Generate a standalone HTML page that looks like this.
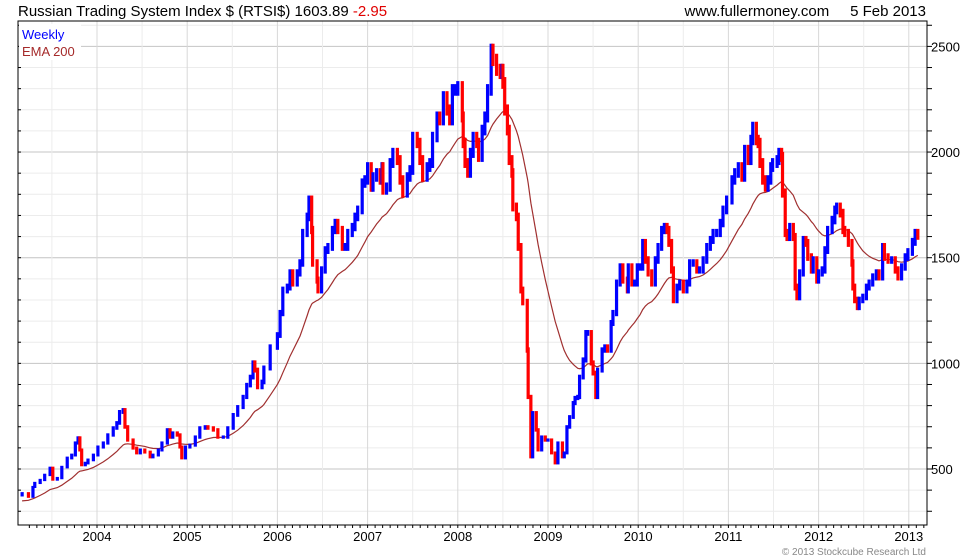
<!DOCTYPE html>
<html><head><meta charset="utf-8"><style>
body{margin:0;background:#fff;}
svg{display:block;font-family:"Liberation Sans",sans-serif;}
</style></head><body>
<svg id="chart" width="980" height="560" viewBox="0 0 980 560" xmlns="http://www.w3.org/2000/svg">
<rect width="980" height="560" fill="#fff"/>
<g id="grid"></g>
<g id="ema"></g>
<g id="bars"></g>
<g id="axes"></g>
<text x="18" y="16" font-size="15" fill="#000">Russian Trading System Index $ (RTSI$) 1603.89 <tspan fill="#e00000">-2.95</tspan></text>
<text x="926" y="16" font-size="15" fill="#000" text-anchor="end">www.fullermoney.com&#160;&#160;&#160;&#160;&#160;5 Feb 2013</text>
<rect x="19" y="24" width="62" height="36" fill="#fff"/>
<text x="22" y="39" font-size="13" fill="#0000ff">Weekly</text>
<text x="22" y="56" font-size="13" fill="#a52a2a">EMA 200</text>
<text x="926" y="555" font-size="10" fill="#888" text-anchor="end">© 2013 Stockcube Research Ltd</text>
</svg>
<script>
const dates=[2003.17,2003.24,2003.29,2003.31,2003.37,2003.42,2003.48,2003.51,2003.56,2003.61,2003.67,2003.72,2003.76,2003.79,2003.81,2003.83,2003.87,2003.90,2003.96,2004.01,2004.07,2004.12,2004.18,2004.22,2004.25,2004.29,2004.31,2004.34,2004.40,2004.44,2004.48,2004.53,2004.59,2004.62,2004.68,2004.72,2004.78,2004.81,2004.84,2004.89,2004.92,2004.94,2004.98,2005.03,2005.09,2005.14,2005.20,2005.23,2005.29,2005.34,2005.40,2005.45,2005.51,2005.56,2005.62,2005.66,2005.70,2005.73,2005.75,2005.78,2005.83,2005.85,2005.92,2006.00,2006.03,2006.06,2006.11,2006.14,2006.17,2006.22,2006.25,2006.28,2006.33,2006.35,2006.38,2006.39,2006.44,2006.45,2006.49,2006.53,2006.56,2006.61,2006.64,2006.67,2006.72,2006.75,2006.78,2006.83,2006.86,2006.89,2006.94,2006.97,2007.00,2007.04,2007.06,2007.10,2007.14,2007.16,2007.17,2007.21,2007.25,2007.28,2007.33,2007.36,2007.39,2007.44,2007.47,2007.50,2007.55,2007.58,2007.61,2007.66,2007.69,2007.72,2007.77,2007.80,2007.84,2007.88,2007.91,2007.94,2007.97,2008.00,2008.05,2008.06,2008.08,2008.11,2008.14,2008.17,2008.21,2008.23,2008.27,2008.30,2008.33,2008.37,2008.39,2008.43,2008.47,2008.49,2008.50,2008.52,2008.55,2008.57,2008.60,2008.61,2008.65,2008.67,2008.70,2008.72,2008.77,2008.78,2008.81,2008.83,2008.87,2008.89,2008.93,2008.97,2009.00,2009.04,2009.08,2009.11,2009.16,2009.18,2009.21,2009.24,2009.28,2009.30,2009.33,2009.35,2009.39,2009.42,2009.44,2009.48,2009.50,2009.53,2009.55,2009.60,2009.63,2009.66,2009.70,2009.72,2009.76,2009.80,2009.83,2009.88,2009.89,2009.93,2009.96,2009.99,2010.02,2010.05,2010.08,2010.11,2010.15,2010.19,2010.22,2010.26,2010.29,2010.32,2010.34,2010.37,2010.39,2010.43,2010.46,2010.50,2010.54,2010.57,2010.61,2010.65,2010.68,2010.72,2010.76,2010.80,2010.83,2010.87,2010.91,2010.94,2010.98,2011.04,2011.07,2011.11,2011.15,2011.18,2011.22,2011.25,2011.27,2011.31,2011.33,2011.35,2011.38,2011.41,2011.44,2011.47,2011.49,2011.54,2011.56,2011.59,2011.60,2011.63,2011.65,2011.68,2011.72,2011.74,2011.76,2011.79,2011.83,2011.86,2011.88,2011.92,2011.94,2011.98,2012.00,2012.04,2012.07,2012.10,2012.15,2012.18,2012.20,2012.24,2012.27,2012.29,2012.33,2012.37,2012.38,2012.40,2012.43,2012.45,2012.49,2012.53,2012.56,2012.60,2012.64,2012.67,2012.71,2012.73,2012.77,2012.81,2012.85,2012.88,2012.92,2012.96,2012.99,2013.04,2013.07,2013.10];
const closes=[386,368,415,434,448,472,505,450,457,509,552,566,623,647,590,519,528,543,566,604,623,661,694,718,770,779,699,637,599,576,590,580,557,566,590,623,685,651,670,661,604,552,604,613,651,694,699,694,685,651,651,694,756,793,841,897,935,1002,968,888,912,978,1077,1134,1238,1347,1361,1428,1380,1428,1475,1617,1693,1773,1631,1475,1394,1347,1442,1536,1551,1631,1664,1631,1551,1551,1617,1645,1693,1726,1853,1868,1929,1834,1882,1901,1868,1929,1820,1834,1948,1996,1962,1868,1806,1882,1915,2071,2043,1962,1882,1929,1948,2071,2166,2152,2261,2199,2152,2294,2294,2308,2166,2043,1948,1901,1996,2071,2043,1977,2104,2166,2294,2483,2436,2389,2374,2389,2327,2199,2104,1962,1901,1740,1693,1551,1347,1290,1063,841,557,765,685,590,651,637,637,576,528,623,557,576,699,746,812,836,841,935,1016,1144,1144,1002,954,841,968,1063,1077,1063,1191,1238,1380,1456,1394,1347,1456,1380,1380,1456,1456,1570,1489,1428,1380,1489,1551,1631,1645,1631,1570,1442,1300,1361,1380,1347,1380,1475,1475,1442,1442,1489,1551,1584,1617,1617,1664,1726,1773,1868,1901,1929,1882,2010,1962,2057,2118,2057,2043,1948,1868,1834,1868,1929,1948,1962,1996,1977,1806,1617,1598,1645,1598,1361,1314,1428,1584,1570,1503,1442,1489,1394,1428,1442,1536,1631,1678,1726,1740,1711,1631,1617,1570,1475,1361,1300,1267,1300,1314,1361,1380,1409,1428,1409,1551,1503,1489,1489,1442,1409,1456,1503,1527,1575,1617,1604];
const yTicks=[500,1000,1500,2000,2500];
const xYears=[2004,2005,2006,2007,2008,2009,2010,2011,2012,2013];
const emaSeed=345;

const NS="http://www.w3.org/2000/svg";
const L=18,R=927,T=21,B=525;
const xS=t=>97+(t-2004)*90.2;
const yS=p=>469-(p-500)*0.2113;
function mk(tag,attrs,parent){const e=document.createElementNS(NS,tag);for(const k in attrs)e.setAttribute(k,attrs[k]);parent.appendChild(e);return e;}
const grid=document.getElementById('grid'),axes=document.getElementById('axes'),bars=document.getElementById('bars'),emaG=document.getElementById('ema');

// horizontal grid
for(let p=300;p<=2600;p+=100){const y=yS(p);if(y<T||y>B)continue;
 const l=mk('line',{x1:L,x2:R,y1:y,y2:y,stroke:p%500===0?'#c4c4c4':'#ececec','stroke-width':1},grid);
 
 
 mk('line',{x1:R,x2:R+5,y1:y,y2:y,stroke:'#000'},axes);
 mk('line',{x1:L,x2:L+3,y1:y,y2:y,stroke:'#000'},axes);
}
// vertical grid
for(let t=2003.5;t<=2013.01;t+=0.5){const x=xS(t);
 const l=mk('line',{x1:x,x2:x,y1:T,y2:B,stroke:(Math.abs(t-Math.round(t))<0.01)?'#d8d8d8':'#ececec','stroke-width':1},grid);
 
 
}
// monthly ticks
for(let m=0;m<=120;m++){const x=xS(2003.25+m/12);if(x<L||x>R)continue;
 mk('line',{x1:x,x2:x,y1:B,y2:B+3,stroke:'#000'},axes);}
mk('rect',{x:L,y:T,width:R-L,height:B-T,fill:'none',stroke:'#000','stroke-width':1},axes);
yTicks.forEach(v=>{const t=mk('text',{x:931,y:yS(v)+5,'font-size':13,fill:'#000'},axes);t.textContent=v;
 
 });
xYears.forEach(v=>{const t=mk('text',{x:xS(v),y:541,'font-size':13,fill:'#000','text-anchor':'middle'},axes);t.textContent=v;
 
 });

// bars
for(let i=0;i<closes.length;i++){
 const prev=i>0?closes[i-1]:closes[i]*0.97, c=closes[i];
 const hi=Math.max(prev,c)*1.012, lo=Math.min(prev,c)*0.988;
 const x=xS(dates[i]);
 const r=mk('rect',{x:x-1.6,y:yS(hi),width:3.2,height:Math.max(1,yS(lo)-yS(hi)),fill:c>=prev?'#0000ff':'#ff0000'},bars);
 
 
}
// EMA
let e=emaSeed,pts=[];
for(let i=0;i<closes.length;i++){
 const dt=i>0?dates[i]-dates[i-1]:0.04;
 e=e+(closes[i]-e)*(1-Math.exp(-dt/0.4));
 pts.push(xS(dates[i]).toFixed(1)+','+yS(e).toFixed(1));
}
const pl=mk('polyline',{points:pts.join(' '),fill:'none',stroke:'#a03030','stroke-width':1.2},emaG);


</script>
</body></html>
